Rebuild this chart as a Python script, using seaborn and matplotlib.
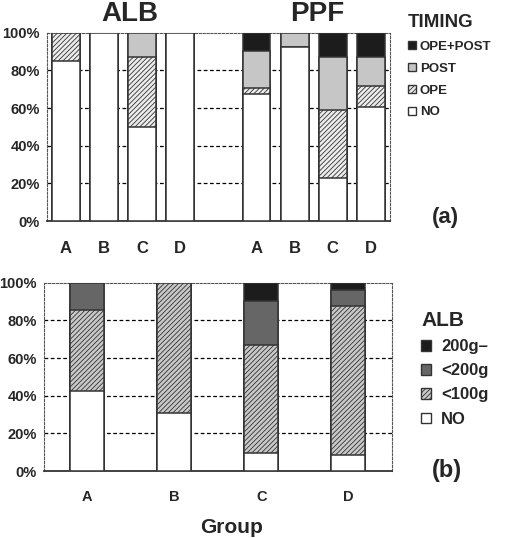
import numpy as np
import pandas as pd
import matplotlib
matplotlib.use('Agg')
import matplotlib.pyplot as plt
import seaborn as sns
from matplotlib.patches import Patch

# ---- data (% of patients, stacked bottom -> top) ----
groups = ['A', 'B', 'C', 'D']
slots_a = ['ALB A', 'ALB B', 'ALB C', 'ALB D', 'gap', 'PPF A', 'PPF B', 'PPF C', 'PPF D']
bars_a = ['ALB A', 'ALB B', 'ALB C', 'ALB D', 'PPF A', 'PPF B', 'PPF C', 'PPF D']
ticklabels_a = ['A', 'B', 'C', 'D', '', 'A', 'B', 'C', 'D']

timing_labels = ['NO', 'OPE', 'POST', 'OPE+POST']
timing_no = [85, 100, 50, 100, 67.5, 92.5, 23, 60.5]
timing_ope = [15, 0, 37, 0, 3, 0, 36, 11.5]
timing_post = [0, 0, 13, 0, 20, 7.5, 28, 15]
timing_both = [0, 0, 0, 0, 9.5, 0, 13, 13]

dose_labels = ['NO', '<100g', '<200g', '200g\u2013']
dose_no = [42.5, 30.7, 9.7, 8.5]
dose_100 = [42.8, 69.3, 57.3, 79.2]
dose_200 = [14.7, 0, 23.4, 8.6]
dose_200plus = [0, 0, 9.6, 3.7]

sns.set_style('white')
plt.rcParams['font.family'] = ['Liberation Sans', 'DejaVu Sans']
plt.rcParams['font.weight'] = 'bold'
plt.rcParams['hatch.color'] = '#555555'
plt.rcParams['hatch.linewidth'] = 0.6

EDGE = '#333333'


def stacked(ax, keys, order, layers, styles, width):
    cum = np.cumsum(np.array(layers, dtype=float), axis=0)
    for i in range(len(layers) - 1, -1, -1):
        df = pd.DataFrame({'slot': keys, 'pct': cum[i]})
        n0 = len(ax.patches)
        sns.barplot(data=df, x='slot', y='pct', order=order, color=styles[i][0],
                    saturation=1, width=width, errorbar=None, edgecolor=EDGE,
                    linewidth=1.1, ax=ax, zorder=3)
        for p in ax.patches[n0:]:
            if styles[i][1]:
                p.set_hatch(styles[i][1])


def style_axes(ax, n):
    ax.set_ylim(0, 100)
    ax.set_xlim(-0.5, n - 0.5)
    ax.set_yticks([0, 20, 40, 60, 80, 100])
    ax.set_yticklabels([f'{v}%' for v in range(0, 101, 20)], fontsize=10.5, fontweight='bold')
    for y in [20, 40, 60, 80]:
        ax.axhline(y, color='black', ls=(0, (3, 2)), lw=0.9, zorder=1)
    for s in ['top', 'right', 'left']:
        ax.spines[s].set_linestyle((0, (2, 1.5)))
        ax.spines[s].set_color('#555555')
        ax.spines[s].set_linewidth(0.8)
    ax.spines['bottom'].set_color('#333333')
    ax.spines['bottom'].set_linewidth(1.3)
    ax.set_xticks(np.arange(0.5, n - 1, 1.0), minor=True)
    ax.tick_params(axis='x', which='minor', direction='in', length=4, width=1, color='#444444')
    ax.tick_params(axis='x', which='major', length=0, pad=14)
    ax.tick_params(axis='y', length=0, pad=5)
    ax.set_xlabel('')
    ax.set_ylabel('')


fig = plt.figure(figsize=(5.05, 5.38), dpi=100)

# ---- (a) timing ----
ax1 = fig.add_axes([0.093, 0.589, 0.679, 0.350])
timing_styles = [('white', None), ('#ececec', '///////'), ('#c6c6c6', None), ('#1c1c1c', None)]
stacked(ax1, bars_a, slots_a, [timing_no, timing_ope, timing_post, timing_both],
        timing_styles, 0.73)
style_axes(ax1, len(slots_a))
ax1.set_xticks(range(len(slots_a)))
ax1.set_xticklabels(ticklabels_a, fontsize=12, fontweight='bold')

fig.text(130 / 505, 1 - 14 / 538, 'ALB', ha='center', va='center', fontsize=20, fontweight='bold')
fig.text(317 / 505, 1 - 14 / 538, 'PPF', ha='center', va='center', fontsize=20, fontweight='bold')

h1 = [Patch(facecolor=timing_styles[i][0], edgecolor=EDGE, hatch=timing_styles[i][1],
            label=timing_labels[i]) for i in range(3, -1, -1)]
leg1 = fig.legend(handles=h1, loc='upper left', bbox_to_anchor=(396 / 505, 1 - 2 / 538),
                  frameon=False, title='TIMING', fontsize=9.5, handlelength=0.6,
                  handleheight=0.6, handletextpad=0.3, labelspacing=0.75,
                  title_fontproperties={'weight': 'bold', 'size': 13.5})
leg1._legend_box.align = 'left'
fig.text(445 / 505, 1 - 218 / 538, '(a)', ha='center', va='center', fontsize=16, fontweight='bold')

# ---- (b) albumin dose ----
ax2 = fig.add_axes([0.087, 0.1245, 0.689, 0.350])
dose_styles = [('white', None), ('#c8c8c8', '///////'), ('#666666', None), ('#1c1c1c', None)]
stacked(ax2, groups, groups, [dose_no, dose_100, dose_200, dose_200plus], dose_styles, 0.39)
style_axes(ax2, len(groups))
ax2.set_xticks(range(len(groups)))
ax2.set_xticklabels(groups, fontsize=10.5, fontweight='bold')
ax2.set_xlabel('Group', fontsize=15, fontweight='bold')
ax2.xaxis.set_label_coords(0.54, -0.25)

h2 = [Patch(facecolor=dose_styles[i][0], edgecolor=EDGE, hatch=dose_styles[i][1],
            label=dose_labels[i]) for i in range(3, -1, -1)]
leg2 = fig.legend(handles=h2, loc='upper left', bbox_to_anchor=(406 / 505, 1 - 296 / 538),
                  frameon=False, title='ALB', fontsize=12, handlelength=0.6,
                  handleheight=0.6, handletextpad=0.6, labelspacing=0.55,
                  title_fontproperties={'weight': 'bold', 'size': 15})
leg2._legend_box.align = 'left'
fig.text(447 / 505, 1 - 470 / 538, '(b)', ha='center', va='center', fontsize=17, fontweight='bold')

fig.savefig('out.png', dpi=100)
